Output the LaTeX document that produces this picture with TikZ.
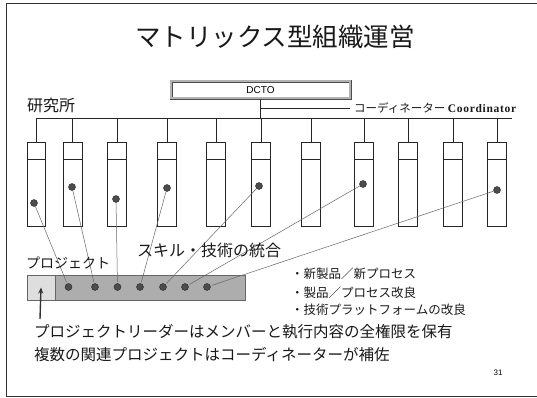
\documentclass[tikz,border=0pt]{standalone}
\usepackage{fontspec}
\setmainfont{Liberation Sans}
\newfontfamily\jp{Noto Sans CJK JP}
\newfontfamily\serifb[LetterSpace=6]{Liberation Serif}
\usetikzlibrary{arrows.meta}
\begin{document}
\begin{tikzpicture}[x=1pt,y=-1pt,
  unitbox/.style={draw=black!85,line width=0.8pt,minimum width=18.5pt,minimum height=84pt,inner sep=0pt,fill=white},
  mdot/.style={circle,fill=black!70,draw=black!85,line width=0.4pt,minimum size=7pt,inner sep=0pt},
  link/.style={draw=black!60,line width=0.5pt,shorten >=1.5pt},
  orgline/.style={draw=black!85,line width=0.7pt},
  jtxt/.style={font=\jp,inner sep=0pt,text=black!90}]
\useasboundingbox (0,0) rectangle (537,398);
% frame
\draw[black!80,line width=1pt] (545,4) -- (6,4) -- (6,396) -- (545,396);
% title
\node[jtxt,font=\jp\fontsize{25.5}{25.5}\selectfont] (title) at (275,37) {マトリックス型組織運営};
% DCTO
\node[draw=black!70,double=black!30,double distance=2pt,line width=0.5pt,minimum width=179pt,minimum height=17pt,inner sep=0pt,font=\fontsize{10}{10}\selectfont] (dcto) at (260.5,90) {DCTO};
\node[jtxt,font=\jp\fontsize{16}{16}\selectfont,anchor=west] (lab) at (27,105) {研究所};
% coordinator
\coordinate (cs) at (dcto.south |- 0,108);
\node[jtxt,anchor=west,inner xsep=4pt] (coord) at (350,108) {\fontsize{11.5}{11.5}\selectfont コーディネーター {\serifb\bfseries\fontsize{11.5}{11.5}\selectfont Coordinator}};
\draw[orgline] (cs) -- (coord.west);
% bar
\coordinate (bl) at (36,118);
\coordinate (br) at (512,118);
\draw[orgline] (bl) -- (br);
\draw[orgline] (dcto.south) -- (dcto.south |- bl);
% boxes
\foreach \i/\x in {1/36.5,2/72.7,3/117,4/167,5/216,6/261,7/311,8/364,9/408,10/453,11/497}{
  \node[unitbox] (b\i) at (\x,184) {};
  \draw[orgline] (b\i.north west |- 0,159.5) -- (b\i.north east |- 0,159.5);
  \draw[orgline] (b\i.north) -- (b\i.north |- bl);
}
% member dots
\node[mdot] (d1) at (34,203) {};
\node[mdot] (d2) at (72,187) {};
\node[mdot] (d3) at (116,199) {};
\node[mdot] (d4) at (167,188) {};
\node[mdot] (d6) at (259,186) {};
\node[mdot] (d8) at (363,184) {};
\node[mdot] (d11) at (497,190) {};
% project bar
\node[draw=black!60,fill=black!13,minimum width=28pt,minimum height=25pt,inner sep=0pt,line width=0.5pt] (lead) at (41,287.5) {};
\node[draw=black!60,fill=black!32,minimum width=190pt,minimum height=25pt,inner sep=0pt,line width=0.5pt,anchor=west] (team) at (lead.east) {};
\foreach \i/\x in {1/68.5,2/95,3/117.5,4/140,5/163,6/185,7/207}{
  \node[mdot] (p\i) at (\x,287) {};
}
\draw[link] (d1) -- (p1);
\draw[link] (d2) -- (p2);
\draw[link] (d3) -- (p3);
\draw[link] (d4) -- (p4);
\draw[link] (d6) -- (p5);
\draw[link] (d8) -- (p6);
\draw[link] (d11) -- (p7);
% arrow
\coordinate (ab) at (40,319);
\draw[black!80,line width=1.4pt,-{Stealth[length=6pt,width=5pt]}] (ab) -- (lead.center);
% texts
\node[jtxt,font=\jp\fontsize{14}{14}\selectfont,anchor=west] (proj) at (26,263) {プロジェクト};
\node[jtxt,font=\jp\fontsize{16}{16}\selectfont,anchor=west] (skill) at (137,250) {スキル・技術の統合};
\node[jtxt,font=\jp\fontsize{12.5}{12.5}\selectfont,anchor=west] (t1) at (291,274) {・新製品／新プロセス};
\node[jtxt,font=\jp\fontsize{12.5}{12.5}\selectfont,anchor=west] (t2) at (291,292.5) {・製品／プロセス改良};
\node[jtxt,font=\jp\fontsize{12.5}{12.5}\selectfont,anchor=west] (t3) at (291,310) {・技術プラットフォームの改良};
\node[jtxt,font=\jp\fontsize{15.5}{15.5}\selectfont,anchor=west] (m1) at (34,332) {プロジェクトリーダーはメンバーと執行内容の全権限を保有};
\node[jtxt,font=\jp\fontsize{15.5}{15.5}\selectfont,anchor=west] (m2) at (34,355) {複数の関連プロジェクトはコーディネーターが補佐};
\node[inner sep=0pt,font=\fontsize{8}{8}\selectfont] (pg) at (498,373) {31};
\end{tikzpicture}
\end{document}
